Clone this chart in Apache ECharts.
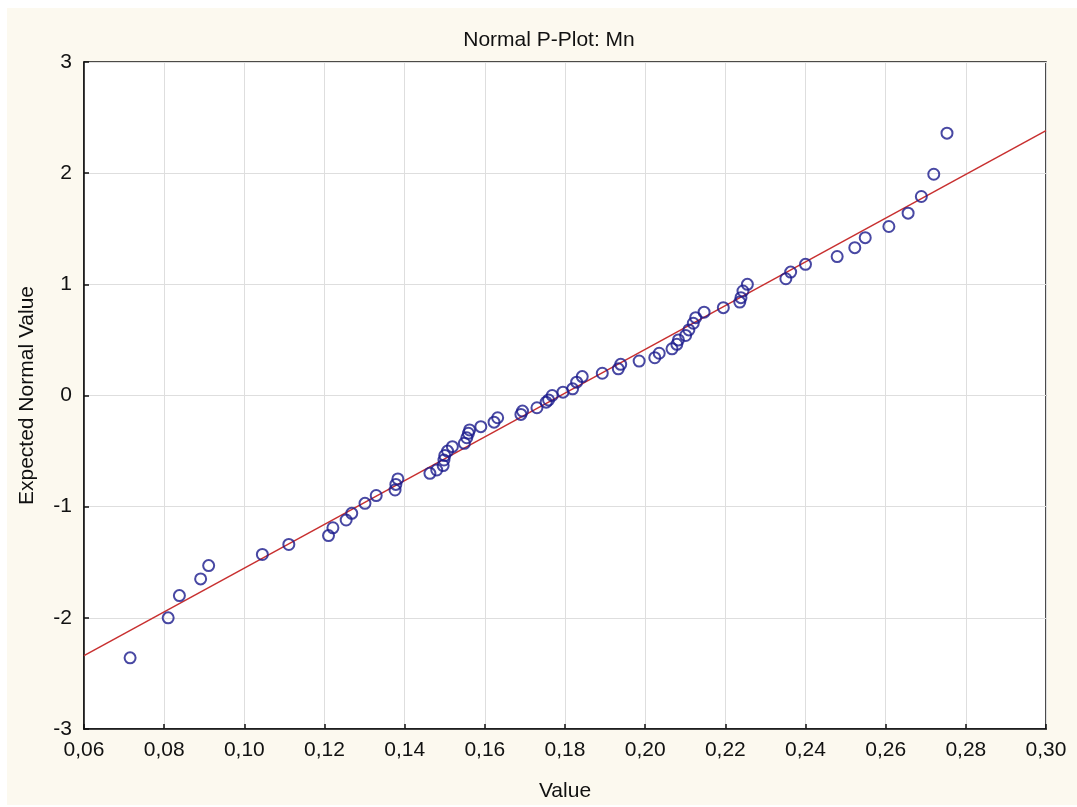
<!DOCTYPE html>
<html>
<head>
<meta charset="utf-8">
<script src="https://cdn.jsdelivr.net/npm/echarts@6/dist/echarts.min.js"></script>
<style>
html,body{margin:0;padding:0;background:#ffffff;}
#chart{width:1077px;height:807px;}
</style>
</head>
<body>
<div id="chart"></div>
<script>
const mnValues = [
  0.0715, 0.0810, 0.0838, 0.0891, 0.0911, 0.1045, 0.1111, 0.1210, 0.1221, 0.1254,
  0.1268, 0.1301, 0.1329, 0.1376, 0.1378, 0.1383, 0.1463, 0.1480, 0.1496, 0.1498,
  0.1500, 0.1507, 0.1519, 0.1549, 0.1555, 0.1559, 0.1562, 0.1590, 0.1623, 0.1632,
  0.1690, 0.1694, 0.1730, 0.1753, 0.1759, 0.1768, 0.1795, 0.1819, 0.1829, 0.1843,
  0.1893, 0.1933, 0.1939, 0.1985, 0.2024, 0.2035, 0.2067, 0.2079, 0.2083, 0.2101,
  0.2109, 0.2120, 0.2126, 0.2147, 0.2195, 0.2236, 0.2239, 0.2244, 0.2255, 0.2351,
  0.2363, 0.2400, 0.2479, 0.2523, 0.2549, 0.2608, 0.2656, 0.2689, 0.2720, 0.2753
];
const expectedNormal = [
  -2.36, -2.00, -1.80, -1.65, -1.53, -1.43, -1.34, -1.26, -1.19, -1.12,
  -1.06, -0.97, -0.90, -0.85, -0.80, -0.75, -0.70, -0.67, -0.63, -0.58,
  -0.54, -0.50, -0.46, -0.43, -0.38, -0.34, -0.31, -0.28, -0.24, -0.20,
  -0.17, -0.14, -0.11, -0.06, -0.04, 0.00, 0.03, 0.06, 0.12, 0.17,
  0.20, 0.24, 0.28, 0.31, 0.34, 0.38, 0.42, 0.46, 0.50, 0.54,
  0.59, 0.65, 0.70, 0.75, 0.79, 0.84, 0.88, 0.94, 1.00, 1.05,
  1.11, 1.18, 1.25, 1.33, 1.42, 1.52, 1.64, 1.79, 1.99, 2.36
];
// Fitted reference line endpoints
const fitLineX = [0.06, 0.30];
const fitLineY = [-2.34, 2.383];

const xTicks = { min: 0.06, max: 0.30, interval: 0.02 };
const yTicks = { min: -3, max: 3, interval: 1 };

const scatterData = mnValues.map((v, i) => [v, expectedNormal[i]]);
const lineData = fitLineX.map((v, i) => [v, fitLineY[i]]);

const chart = echarts.init(document.getElementById('chart'), null, { renderer: 'canvas' });
const fontFam = '"Liberation Sans", Arial, sans-serif';
chart.setOption({
  backgroundColor: '#ffffff',
  animation: false,
  graphic: [{
    type: 'rect', z: -10, silent: true,
    shape: { x: 7, y: 8, width: 1070, height: 797 },
    style: { fill: '#fcf9ef' }
  }],
  title: {
    text: 'Normal P-Plot: Mn',
    left: 544, top: 25, textAlign: 'center',
    textStyle: { fontFamily: fontFam, fontSize: 21, fontWeight: 'normal', color: '#111' }
  },
  grid: {
    left: 84, top: 62, right: 31, bottom: 77,
    show: true, backgroundColor: '#ffffff', borderColor: '#111', borderWidth: 1.5
  },
  xAxis: {
    type: 'value', min: xTicks.min, max: xTicks.max, interval: xTicks.interval,
    name: 'Value', nameLocation: 'middle', nameGap: 52,
    nameTextStyle: { fontFamily: fontFam, fontSize: 21, color: '#111' },
    axisLine: { show: true, onZero: false, lineStyle: { color: '#111', width: 1.5 } },
    axisTick: { show: true, inside: true, length: 5, lineStyle: { color: '#111', width: 1.5 } },
    axisLabel: {
      fontFamily: fontFam, fontSize: 21, color: '#111', margin: 11,
      formatter: v => v.toFixed(2).replace('.', ',')
    },
    splitLine: { show: true, lineStyle: { color: '#dedede', width: 1 } }
  },
  yAxis: {
    type: 'value', min: yTicks.min, max: yTicks.max, interval: yTicks.interval,
    name: 'Expected Normal Value', nameLocation: 'middle', nameGap: 46, nameRotate: 90,
    nameTextStyle: { fontFamily: fontFam, fontSize: 21, color: '#111' },
    axisLine: { show: true, onZero: false, lineStyle: { color: '#111', width: 1.5 } },
    axisTick: { show: true, inside: true, length: 5, lineStyle: { color: '#111', width: 1.5 } },
    axisLabel: { fontFamily: fontFam, fontSize: 21, color: '#111', margin: 12 },
    splitLine: { show: true, lineStyle: { color: '#dedede', width: 1 } }
  },
  series: [
    {
      type: 'line', data: lineData, symbol: 'none', z: 2,
      lineStyle: { color: '#c83030', width: 1.5 }, silent: true
    },
    {
      type: 'scatter', data: scatterData, symbol: 'circle', symbolSize: 11, z: 3,
      itemStyle: { color: 'rgba(0,0,0,0)', borderColor: '#1a1a8c', borderWidth: 2 }
    }
  ]
});
</script>
</body>
</html>
